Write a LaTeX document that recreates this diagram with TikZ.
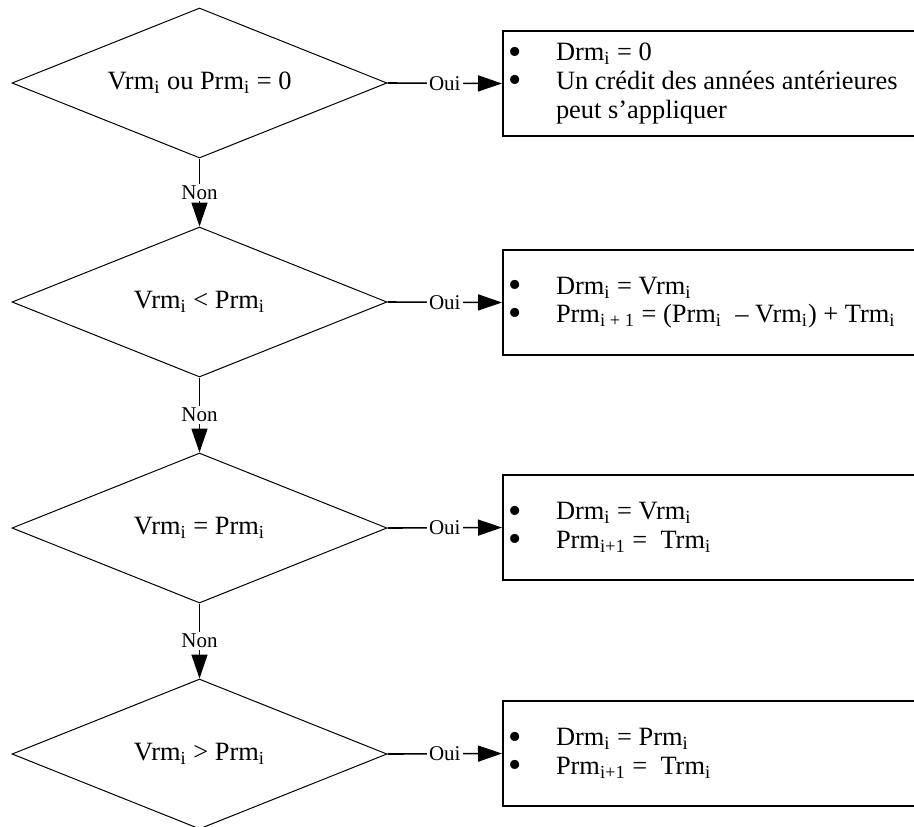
\documentclass[tikz,border=0pt]{standalone}
\usepackage{fontspec}
\setmainfont{Liberation Serif}
\usetikzlibrary{shapes.geometric,arrows.meta}
\newcommand{\bul}{\makebox[24pt][l]{\raisebox{-1.6pt}[0pt][0pt]{\fontsize{19}{14}\selectfont •}}}
\newcommand{\sbi}[1]{\textsubscript{#1}}
\begin{document}
\begin{tikzpicture}[x=0.5pt,y=-0.5pt,
  dec/.style={draw, line width=0.5pt, shape=diamond, shape aspect=2.5, minimum width=187.5pt, minimum height=75pt, inner sep=0pt, font=\fontsize{13.2}{14.3}\selectfont},
  res/.style={draw, line width=1pt, rectangle, minimum width=212pt, minimum height=52.5pt, text width=207pt, inner xsep=2.5pt, inner ysep=0pt, align=flush left, anchor=west, font=\fontsize{13.2}{14.3}\selectfont},
  conn/.style={line width=0.8pt, -{Triangle[length=12pt,width=8pt]}},
  lab/.style={fill=white, inner sep=1pt, font=\fontsize{10.5}{12}\selectfont},
]
\useasboundingbox (0,0) rectangle (914,826);
\clip (0,0) rectangle (914,826);
\fill[white] (0,0) rectangle (914,826);

\node[dec] (d1) at (199.5,83) {Vrm\sbi{i} ou Prm\sbi{i} = 0};
\node[dec] (d2) at (199.5,302) {Vrm\sbi{i} < Prm\sbi{i}};
\node[dec] (d3) at (199.5,528) {Vrm\sbi{i} = Prm\sbi{i}};
\node[dec] (d4) at (199.5,754) {Vrm\sbi{i} > Prm\sbi{i}};

\node[res] (b1) at (502,83.5) {\bul Drm\sbi{i} = 0\\\bul Un crédit des années antérieures\\\hspace*{24pt}peut s’appliquer};
\node[res] (b2) at (502,302.5) {\bul Drm\sbi{i} = Vrm\sbi{i}\\\bul Prm\sbi{i + 1} = (Prm\sbi{i}\ \ – Vrm\sbi{i}) + Trm\sbi{i}};
\node[res] (b3) at (502,527.5) {\bul Drm\sbi{i} = Vrm\sbi{i}\\\bul Prm\sbi{i+1} = \ Trm\sbi{i}};
\node[res] (b4) at (502,753.5) {\bul Drm\sbi{i} = Prm\sbi{i}\\\bul Prm\sbi{i+1} = \ Trm\sbi{i}};

\draw[conn] (d1.east) -- node[lab]{Oui} (b1.west);
\draw[conn] (d2.east) -- node[lab]{Oui} (b2.west);
\draw[conn] (d3.east) -- node[lab]{Oui} (b3.west);
\draw[conn] (d4.east) -- node[lab]{Oui} (b4.west);

\draw[conn] (d1.south) -- node[lab]{Non} (d2.north);
\draw[conn] (d2.south) -- node[lab]{Non} (d3.north);
\draw[conn] (d3.south) -- node[lab]{Non} (d4.north);
\end{tikzpicture}
\end{document}
